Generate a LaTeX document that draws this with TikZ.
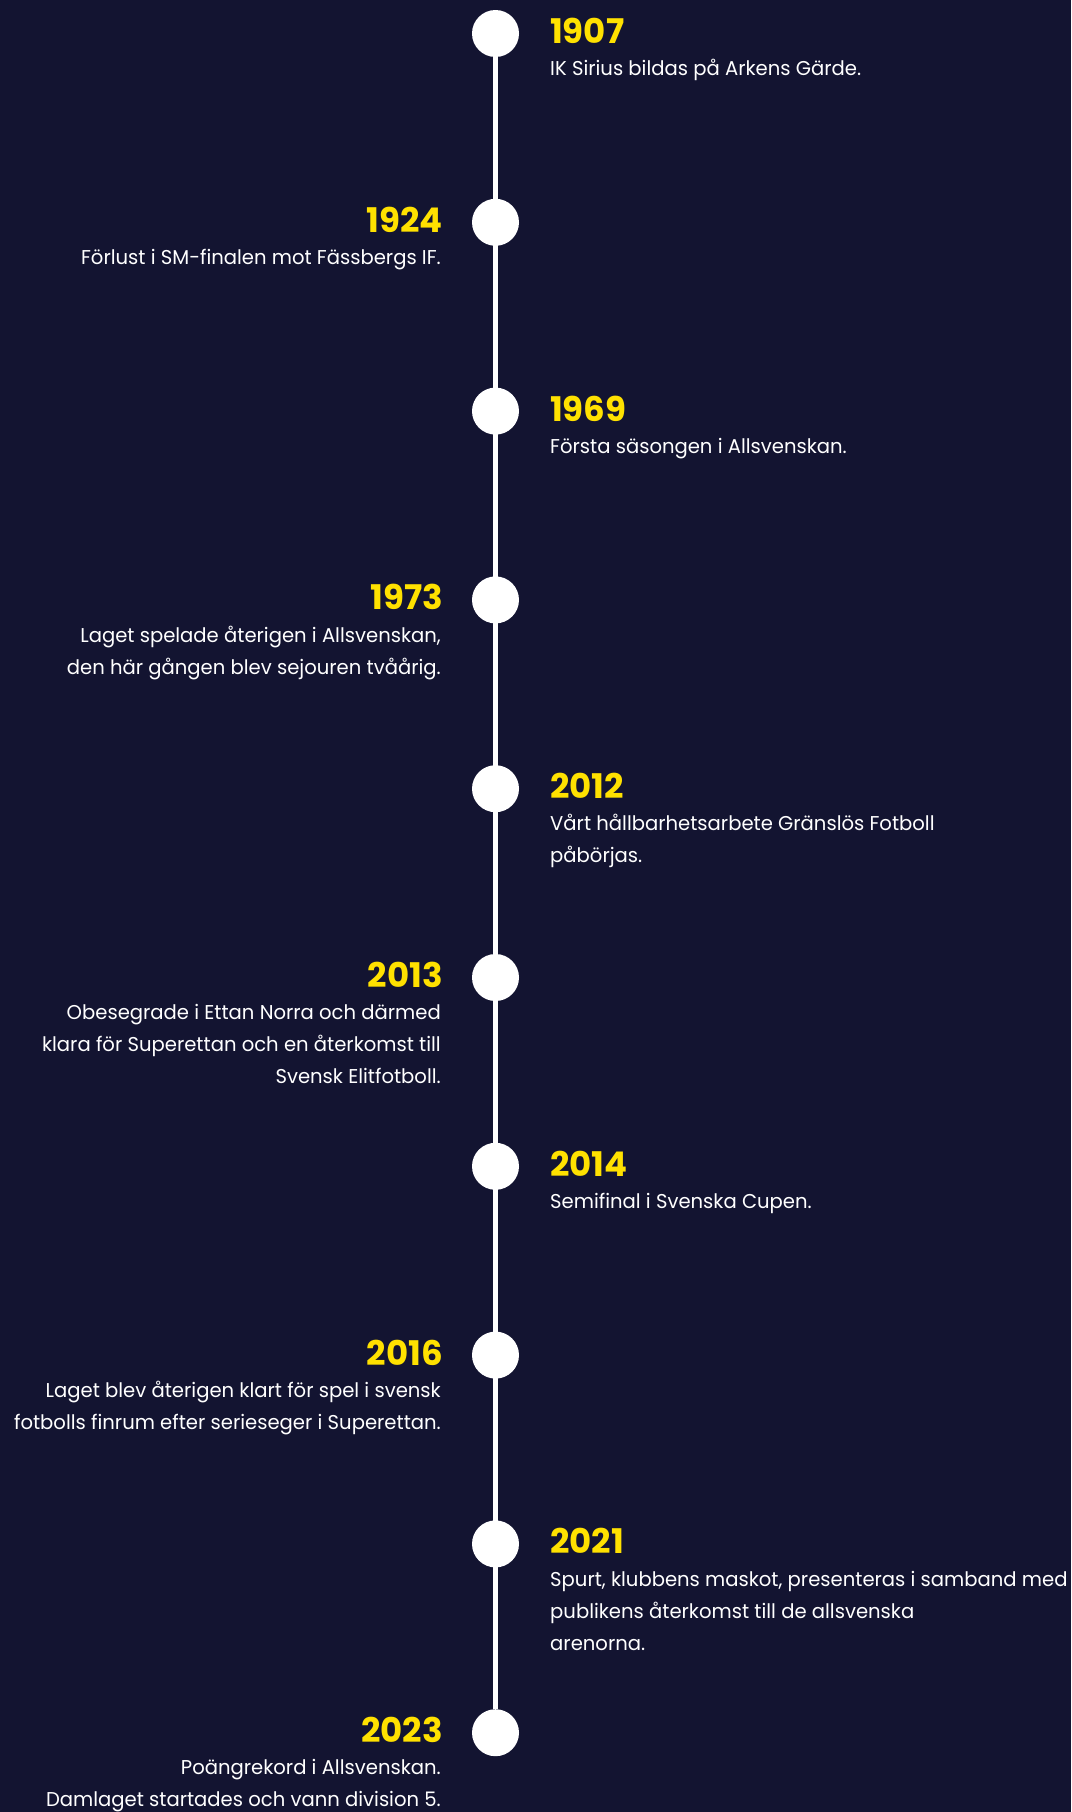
\documentclass[tikz,border=0pt]{standalone}
\usepackage{fontspec}
\setmainfont{Poppins}
\newfontfamily\notefont[FakeStretch=0.98]{Poppins}
\usetikzlibrary{positioning}
\definecolor{navy}{HTML}{131431}
\definecolor{gold}{HTML}{FFE100}
\newcommand{\notestrut}{\rule{0pt}{20pt}}
\tikzset{
  dot/.style={circle, fill=white, minimum size=47pt, inner sep=0pt},
  year/.style={font=\fontsize{34}{34}\selectfont\bfseries, text=gold, inner sep=0pt},
  note/.style={font=\notefont\fontsize{20}{32}\selectfont, text=white, inner sep=0pt},
}

\begin{document}
\begin{tikzpicture}[x=1pt, y=-1pt]
  \fill[navy] (0,0) rectangle (1071,1812);
  \useasboundingbox (0,0) rectangle (1071,1812);

  \foreach \k in {0,...,9}
    \node[dot] (c\k) at (495.5, 33.5+188.8*\k) {};
  \draw[white, line width=5pt] (c0.south) -- (c9.north);

  % right hand side
  \node[year, anchor=base west] (y0) at ([xshift=54.5pt, yshift=-10pt]c0) {1907};
  \node[note, anchor=north west, align=left] (n0) at ([yshift=-12pt]y0.base west)
    {\notestrut IK Sirius bildas på Arkens Gärde.};
  \node[year, anchor=base west] (y2) at ([xshift=54.5pt, yshift=-10pt]c2) {1969};
  \node[note, anchor=north west, align=left] (n2) at ([yshift=-12pt]y2.base west)
    {\notestrut Första säsongen i Allsvenskan.};
  \node[year, anchor=base west] (y4) at ([xshift=54.5pt, yshift=-10pt]c4) {2012};
  \node[note, anchor=north west, align=left] (n4) at ([yshift=-12pt]y4.base west)
    {\notestrut Vårt hållbarhetsarbete Gränslös Fotboll\\påbörjas.};
  \node[year, anchor=base west] (y6) at ([xshift=54.5pt, yshift=-10pt]c6) {2014};
  \node[note, anchor=north west, align=left] (n6) at ([yshift=-12pt]y6.base west)
    {\notestrut Semifinal i Svenska Cupen.};
  \node[year, anchor=base west] (y8) at ([xshift=54.5pt, yshift=-10pt]c8) {2021};
  \node[note, anchor=north west, align=left] (n8) at ([yshift=-12pt]y8.base west)
    {\notestrut Spurt, klubbens maskot, presenteras i samband med\\publikens återkomst till de allsvenska\\arenorna.};

  % left hand side
  \node[year, anchor=base east] (y1) at ([xshift=-52.5pt, yshift=-10pt]c1) {1924};
  \node[note, anchor=north east, align=right] (n1) at ([xshift=-2pt, yshift=-12pt]y1.base east)
    {\notestrut Förlust i SM-finalen mot Fässbergs IF.};
  \node[year, anchor=base east] (y3) at ([xshift=-52.5pt, yshift=-10pt]c3) {1973};
  \node[note, anchor=north east, align=right] (n3) at ([xshift=-2pt, yshift=-12pt]y3.base east)
    {\notestrut Laget spelade återigen i Allsvenskan,\\den här gången blev sejouren tvåårig.};
  \node[year, anchor=base east] (y5) at ([xshift=-52.5pt, yshift=-10pt]c5) {2013};
  \node[note, anchor=north east, align=right] (n5) at ([xshift=-2pt, yshift=-12pt]y5.base east)
    {\notestrut Obesegrade i Ettan Norra och därmed\\klara för Superettan och en återkomst till\\Svensk Elitfotboll.};
  \node[year, anchor=base east] (y7) at ([xshift=-52.5pt, yshift=-10pt]c7) {2016};
  \node[note, anchor=north east, align=right] (n7) at ([xshift=-2pt, yshift=-12pt]y7.base east)
    {\notestrut Laget blev återigen klart för spel i svensk\\fotbolls finrum efter serieseger i Superettan.};
  \node[year, anchor=base east] (y9) at ([xshift=-52.5pt, yshift=-10pt]c9) {2023};
  \node[note, anchor=north east, align=right] (n9) at ([xshift=-2pt, yshift=-12pt]y9.base east)
    {\notestrut Poängrekord i Allsvenskan.\\Damlaget startades och vann division 5.};
\end{tikzpicture}
\end{document}
